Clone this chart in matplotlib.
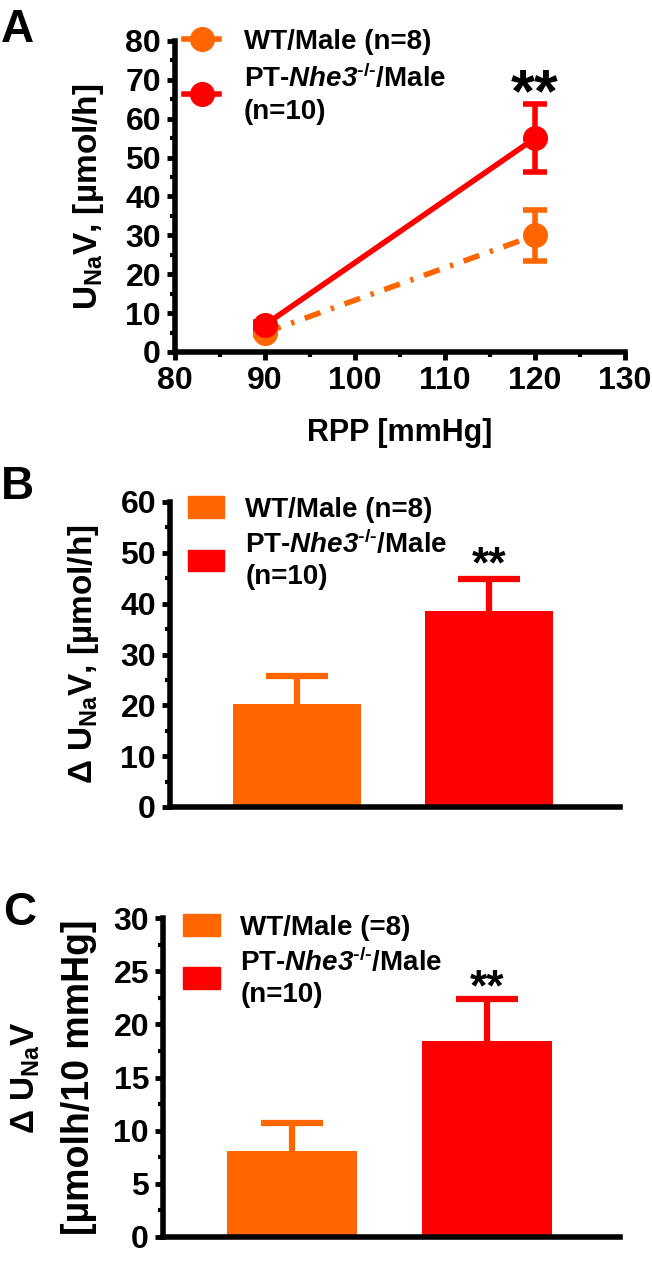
import numpy as np
import matplotlib
matplotlib.use('Agg')
import matplotlib.pyplot as plt
from matplotlib.lines import Line2D
from matplotlib.patches import Patch
from matplotlib.ticker import MultipleLocator

plt.rcParams['font.family'] = ['Liberation Sans', 'DejaVu Sans']
plt.rcParams['font.weight'] = 'bold'
plt.rcParams['mathtext.fontset'] = 'custom'
plt.rcParams['mathtext.rm'] = 'Liberation Sans:bold'
plt.rcParams['mathtext.bf'] = 'Liberation Sans:bold'
plt.rcParams['mathtext.it'] = 'Liberation Sans:italic:bold'
plt.rcParams['mathtext.sf'] = 'Liberation Sans:italic:bold'

ORANGE = '#ff6600'
RED = '#ff0000'

KO_LABEL = 'PT-$\\mathsf{Nhe3}^{\\mathrm{\u2010/\u2010}}$/Male\n(n=10)'

# panel A: UNaV vs renal perfusion pressure
rpp = [90, 120]
wt_unav = [5, 30]
wt_sem = [0.6, 6.5]
ko_unav = [7, 55]
ko_sem = [0.8, 8.8]

# panel B: delta UNaV
groups = ['WT/Male (n=8)', KO_LABEL]
delta_unav = [20.3, 38.6]
delta_unav_sem = [5.5, 6.3]

# panel C: delta UNaV per 10 mmHg
groups_c = ['WT/Male (=8)', KO_LABEL]
slope = [8.1, 18.4]
slope_sem = [2.6, 4.0]

W, H = 652, 1265
fig = plt.figure(figsize=(W / 100, H / 100), dpi=100)


def px_axes(l, t, r, b):
    return fig.add_axes([l / W, 1 - b / H, (r - l) / W, (b - t) / H])


def style(ax):
    for s in ['top', 'right']:
        ax.spines[s].set_visible(False)
    for s in ['left', 'bottom']:
        ax.spines[s].set_linewidth(4)
    ax.tick_params(which='major', length=6, width=3.5, labelsize=23, pad=4)
    ax.tick_params(which='minor', length=3.5, width=3)
    for lab in ax.get_xticklabels() + ax.get_yticklabels():
        lab.set_fontweight('bold')


# ---- A ----
axA = px_axes(175, 41, 625, 352)
axA.errorbar(rpp, wt_unav, yerr=wt_sem, color=ORANGE, lw=4, ls=(0, (3, 2, 0.6, 2)),
             marker='o', ms=17, elinewidth=4, capsize=8.5, capthick=4, zorder=3)
axA.errorbar(rpp, ko_unav, yerr=ko_sem, color=RED, lw=4, ls='-',
             marker='o', ms=17, elinewidth=4, capsize=8.5, capthick=4, zorder=4)
axA.set_xlim(80, 130)
axA.set_ylim(0, 80)
axA.xaxis.set_major_locator(MultipleLocator(10))
axA.xaxis.set_minor_locator(MultipleLocator(5))
axA.yaxis.set_major_locator(MultipleLocator(10))
axA.yaxis.set_minor_locator(MultipleLocator(5))
style(axA)
axA.set_xlabel('RPP [mmHg]', fontsize=22, fontweight='bold', labelpad=16)
axA.set_ylabel('U$_{\\mathrm{Na}}$V, [µmol/h]', fontsize=24, fontweight='bold', labelpad=14)
axA.text(rpp[1], 66, '**', fontsize=44, fontweight='bold', ha='center', va='center')
hA = [Line2D([], [], color=ORANGE, lw=4, marker='o', ms=17),
      Line2D([], [], color=RED, lw=4, marker='o', ms=17)]
legA = axA.legend(hA, ['WT/Male (n=8)', KO_LABEL],
                  loc='upper left', bbox_to_anchor=(-0.035, 1.12), frameon=False,
                  handlelength=1.25, handletextpad=0.9, labelspacing=0.3,
                  prop={'size': 20, 'weight': 'bold'})
for t in legA.get_texts():
    t.set_linespacing(1.3)
fig.text(1 / W, 1 - 30 / H, 'A', fontsize=33, fontweight='bold', va='center')


def bar_panel(ax, vals, sems, labels, ymax, major, star_y, anchor):
    x = np.arange(len(vals))
    cols = [ORANGE, RED]
    ax.bar(x, vals, width=0.667, color=cols, zorder=2)
    tops = np.add(vals, sems)
    ax.vlines(x, vals, tops, colors=cols, lw=4.5, zorder=1)
    ax.hlines(tops, x - 0.16, x + 0.16, colors=cols, lw=4.5, zorder=1)
    ax.set_xlim(-0.66, 1.68)
    ax.set_ylim(0, ymax)
    ax.set_xticks([])
    ax.yaxis.set_major_locator(MultipleLocator(major))
    ax.yaxis.set_minor_locator(MultipleLocator(major / 2))
    style(ax)
    ax.text(1, star_y, '**', fontsize=32, fontweight='bold', ha='center', va='center')
    hs = [Patch(color=ORANGE), Patch(color=RED)]
    leg = ax.legend(hs, labels, loc='upper left', bbox_to_anchor=anchor, frameon=False,
                    handlelength=1.3, handleheight=0.8, handletextpad=0.75,
                    labelspacing=0.25, prop={'size': 20, 'weight': 'bold'})
    for t in leg.get_texts():
        t.set_linespacing(1.25)


# ---- B ----
axB = px_axes(170, 502, 620, 807)
bar_panel(axB, delta_unav, delta_unav_sem, groups, 60, 10, 47.5, (-0.015, 1.1))
axB.set_ylabel('Δ U$_{\\mathrm{Na}}$V, [µmol/h]', fontsize=24, fontweight='bold', labelpad=14)
fig.text(1 / W, 1 - 487 / H, 'B', fontsize=33, fontweight='bold', va='center')

# ---- C ----
axC = px_axes(163, 918, 620, 1237)
bar_panel(axC, slope, slope_sem, groups_c, 30, 5, 23.3, (-0.01, 1.09))
axC.set_ylabel('[µmolh/10 mmHg]', fontsize=27, fontweight='bold', labelpad=12)
axC.text(-0.3, 0.5, 'Δ U$_{\\mathrm{Na}}$V', transform=axC.transAxes, rotation=90,
         fontsize=24, fontweight='bold', ha='center', va='center')
fig.text(3 / W, 1 - 913 / H, 'C', fontsize=33, fontweight='bold', va='center')

fig.savefig('out.png', dpi=100)
